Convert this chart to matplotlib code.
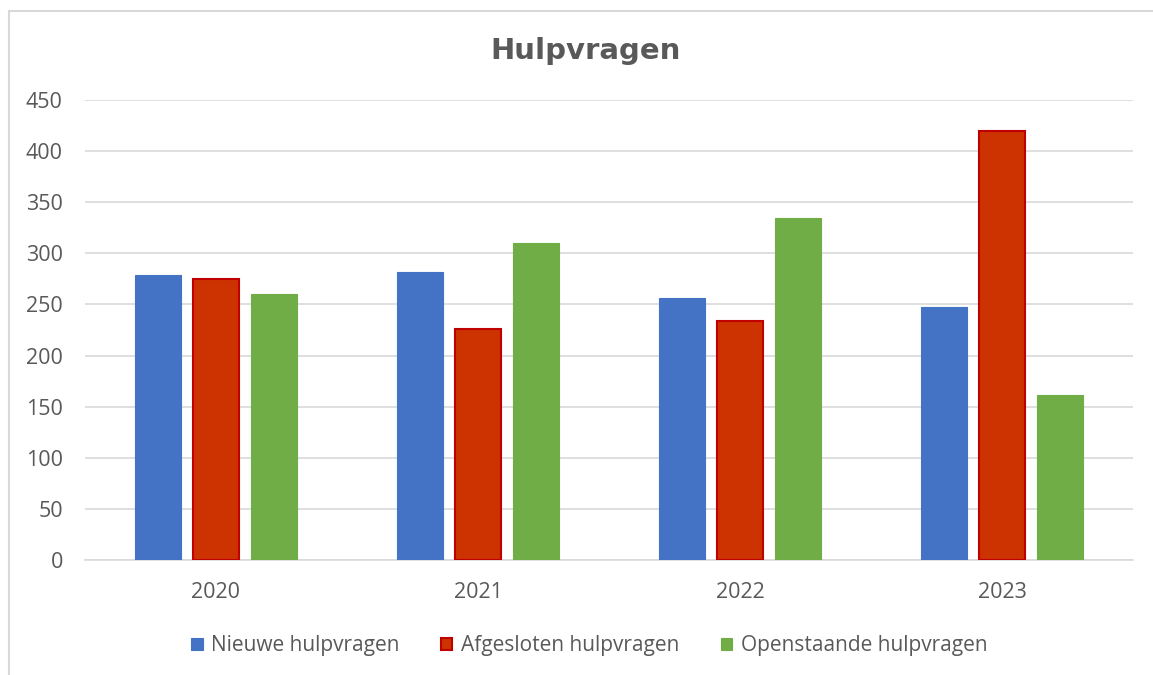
import matplotlib
matplotlib.use("Agg")
import matplotlib.pyplot as plt
from matplotlib.patches import Rectangle
import numpy as np

plt.rcParams['font.family'] = ['Open Sans', 'DejaVu Sans']

# Data
years = ['2020', '2021', '2022', '2023']
nieuwe = [279, 282, 256, 247]
afgesloten = [275, 226, 234, 420]
openstaande = [260, 310, 335, 161]

series_names = ['Nieuwe hulpvragen', 'Afgesloten hulpvragen', 'Openstaande hulpvragen']
fill_colors = ['#4472C4', '#CC3300', '#70AD47']
edge_colors = ['#4472C4', '#C00000', '#70AD47']
TEXT = '#595959'

fig = plt.figure(figsize=(11.53, 6.75), dpi=100)
ax = fig.add_axes([0.0737, 0.1704, 0.909, 0.6815])

# outer chart border (runs off the right and bottom edge like the source)
fig.patches.append(Rectangle((0.0075, -0.05), 1.1, 1.034, transform=fig.transFigure,
                             fill=False, edgecolor='#D9D9D9', linewidth=1.5))

x = np.arange(len(years))
width = 0.176
offset = 0.221
for i, (vals, name) in enumerate(zip([nieuwe, afgesloten, openstaande], series_names)):
    lw = 1.5 if i == 1 else 0.8
    ax.bar(x + (i - 1) * offset, vals, width, label=name,
           color=fill_colors[i], edgecolor=edge_colors[i], linewidth=lw, zorder=3)

ax.set_xlim(-0.5, len(years) - 0.5)
ax.set_ylim(0, 450)
ax.set_yticks(range(0, 451, 50))
ax.set_xticks(x)
ax.set_xticklabels(years)
ax.yaxis.grid(True, color='#D9D9D9', linewidth=1.2, zorder=0)
ax.set_axisbelow(True)
for s in ['top', 'right', 'left']:
    ax.spines[s].set_visible(False)
ax.spines['bottom'].set_color('#D9D9D9')
ax.spines['bottom'].set_linewidth(1.2)
ax.tick_params(axis='both', length=0, labelsize=15.5, labelcolor=TEXT)
ax.tick_params(axis='y', pad=16)
ax.tick_params(axis='x', pad=16)

fig.text(0.508, 0.925, 'Hulpvragen', ha='center', va='center', family='DejaVu Sans',
         fontsize=21, fontweight='bold', color=TEXT)

leg = fig.legend(loc='center', bbox_to_anchor=(0.511, 0.043), ncol=3, frameon=False,
                 fontsize=15, handlelength=0.55, handleheight=0.55, handletextpad=0.4,
                 columnspacing=2.0)
for t in leg.get_texts():
    t.set_color(TEXT)

fig.savefig('out.png', dpi=100)
